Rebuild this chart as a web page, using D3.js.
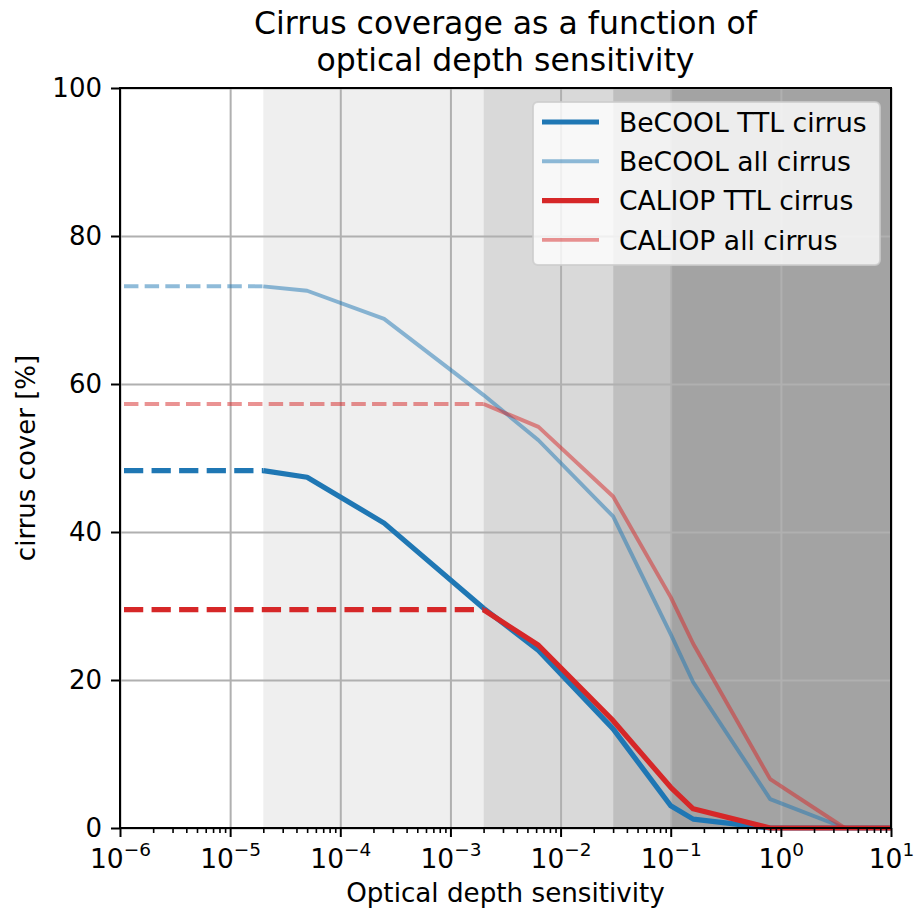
<!DOCTYPE html>
<html lang="en">
<head>
<meta charset="UTF-8">
<title>Cirrus coverage</title>
<style>
    body { margin: 0; background: #fff; }
    svg text { font-family: "DejaVu Sans", sans-serif; fill: #000; }
</style>
</head>
<body>
<svg id="chart" width="917" height="908"></svg>
<script src="https://cdn.jsdelivr.net/npm/d3@7"></script>
<script>
    // values
    const becoolTau = [2e-5, 5e-5, 2.5e-4, 2e-3, 6.3e-3, 3e-2, 0.1, 0.16, 0.8, 3.8, 10];
    const becoolTTL = [48.3, 47.4, 41.2, 29.7, 24.0, 13.4, 3.0, 1.2, 0, 0, 0];
    const becoolAll = [73.2, 72.6, 68.8, 58.5, 52.4, 42.1, 26.2, 19.7, 3.9, 0, 0];

    const caliopTau = [2e-3, 6.3e-3, 3e-2, 0.1, 0.16, 0.8, 3.8, 10];
    const caliopTTL = [29.5, 24.7, 14.5, 5.5, 2.6, 0, 0, 0];
    const caliopAll = [57.3, 54.2, 44.8, 31.2, 24.9, 6.6, 0, 0];

    // sensitivity bands (shaded backgrounds)
    const bandEdges = [2e-5, 2e-3, 3e-2, 0.1, 10];
    const bandColors = ["#efefef", "#d9d9d9", "#bfbfbf", "#a3a3a3"];

    const xDecades = [-6, -5, -4, -3, -2, -1, 0, 1];
    const yTicks = [0, 20, 40, 60, 80, 100];
    const titleLines = ["Cirrus coverage as a function of", "optical depth sensitivity"];

    const series = [
        {name: "BeCOOL TTL cirrus", tau: becoolTau, val: becoolTTL, color: "#1f77b4", opacity: 1, width: 5.2},
        {name: "BeCOOL all cirrus", tau: becoolTau, val: becoolAll, color: "#1f77b4", opacity: 0.5, width: 3.9},
        {name: "CALIOP TTL cirrus", tau: caliopTau, val: caliopTTL, color: "#d62728", opacity: 1, width: 5.2},
        {name: "CALIOP all cirrus", tau: caliopTau, val: caliopAll, color: "#d62728", opacity: 0.5, width: 3.9}
    ];

    const svg = d3.select("#chart");
    const margin = {left: 120, right: 26, top: 88, bottom: 80};
    const W = 917, H = 908;
    const pw = W - margin.left - margin.right;
    const ph = H - margin.top - margin.bottom;

    const x = d3.scaleLog().domain([1e-6, 10]).range([0, pw]);
    const y = d3.scaleLinear().domain([0, 100]).range([ph, 0]);

    const g = svg.append("g").attr("transform", `translate(${margin.left},${margin.top})`);

    // shaded bands
    g.selectAll("rect.band")
        .data(bandColors)
        .enter().append("rect")
        .attr("class", "band")
        .attr("x", (d, i) => x(bandEdges[i]))
        .attr("width", (d, i) => x(bandEdges[i + 1]) - x(bandEdges[i]))
        .attr("y", 0)
        .attr("height", ph)
        .attr("fill", d => d);

    // grid
    const decadeVals = xDecades.map(k => Math.pow(10, k));
    g.append("g")
        .attr("class", "grid")
        .attr("transform", `translate(0,${ph})`)
        .call(d3.axisBottom(x).tickValues(decadeVals).tickSize(-ph).tickFormat(""))
        .call(a => a.select(".domain").remove());
    g.append("g")
        .attr("class", "grid")
        .call(d3.axisLeft(y).tickValues(yTicks).tickSize(-pw).tickFormat(""))
        .call(a => a.select(".domain").remove());
    g.selectAll(".grid line").attr("stroke", "#b0b0b0").attr("stroke-width", 2);

    // lines
    const line = d3.line().x(d => x(d[0])).y(d => y(d[1]));
    series.forEach(s => {
        const pts = s.tau.map((t, i) => [t, s.val[i]]);
        const lg = g.append("g").attr("opacity", s.opacity);
        lg.append("path")
            .attr("d", line([[1e-6, s.val[0]], [s.tau[0], s.val[0]]]))
            .attr("fill", "none")
            .attr("stroke", s.color)
            .attr("stroke-width", s.width)
            .attr("stroke-dasharray", `${3.7 * s.width} ${1.6 * s.width}`)
            .attr("stroke-dashoffset", -4);
        lg.append("path")
            .attr("d", line(pts))
            .attr("fill", "none")
            .attr("stroke", s.color)
            .attr("stroke-width", s.width)
            .attr("stroke-linejoin", "round");
    });

    // axes
    const minorVals = [];
    xDecades.slice(0, -1).forEach(k => {
        for (let m = 2; m <= 9; m++) minorVals.push(m * Math.pow(10, k));
    });
    g.append("g")
        .attr("transform", `translate(0,${ph})`)
        .call(d3.axisBottom(x).tickValues(minorVals).tickSize(5).tickSizeOuter(0).tickFormat(""))
        .call(a => a.select(".domain").remove())
        .selectAll("line").attr("stroke", "#000").attr("stroke-width", 1.6);

    const xAxis = g.append("g")
        .attr("transform", `translate(0,${ph})`)
        .call(d3.axisBottom(x).tickValues(decadeVals).tickSize(9).tickSizeOuter(0).tickFormat(""));
    xAxis.selectAll("line").attr("stroke", "#000").attr("stroke-width", 2);
    xAxis.select(".domain").remove();
    xAxis.selectAll(".tick").each(function(d) {
        const t = d3.select(this).append("text")
            .attr("y", 39.5)
            .attr("text-anchor", "middle")
            .style("font-size", "26.5px");
        t.append("tspan").text("10");
        t.append("tspan")
            .attr("dy", -11.5)
            .style("font-size", "18.5px")
            .text(String(Math.round(Math.log10(d))).replace("-", "\u2212"));
    });

    const yAxis = g.append("g")
        .call(d3.axisLeft(y).tickValues(yTicks).tickSize(9).tickSizeOuter(0).tickPadding(9));
    yAxis.selectAll("line").attr("stroke", "#000").attr("stroke-width", 2);
    yAxis.select(".domain").remove();
    yAxis.selectAll("text")
        .attr("fill", "#000")
        .style("font-family", "DejaVu Sans")
        .style("font-size", "26px");

    // frame
    g.append("rect")
        .attr("width", pw).attr("height", ph)
        .attr("fill", "none")
        .attr("stroke", "#000")
        .attr("stroke-width", 2);

    // legend
    const leg = g.append("g").attr("transform", `translate(${533 - margin.left},${102 - margin.top})`);
    leg.append("rect")
        .attr("width", 347).attr("height", 163)
        .attr("rx", 5)
        .attr("fill", "#fff").attr("fill-opacity", 0.8)
        .attr("stroke", "#ccc").attr("stroke-opacity", 0.8).attr("stroke-width", 2);
    series.forEach((s, i) => {
        const row = leg.append("g").attr("transform", `translate(0,${20 + i * 39.3})`);
        row.append("line")
            .attr("x1", 9).attr("x2", 66)
            .attr("stroke", s.color)
            .attr("stroke-opacity", s.opacity)
            .attr("stroke-width", s.width);
        row.append("text")
            .attr("x", 86).attr("y", 9.8)
            .style("font-size", "26.6px")
            .text(s.name);
    });

    // title, two lines
    const cx = margin.left + pw / 2;
    titleLines.forEach((s, i) => {
        svg.append("text")
            .attr("x", cx)
            .attr("y", 34 + i * 37)
            .attr("text-anchor", "middle")
            .style("font-size", "31.5px")
            .text(s);
    });

    svg.append("text")
        .attr("x", cx).attr("y", 902)
        .attr("text-anchor", "middle")
        .style("font-size", "26.2px")
        .text("Optical depth sensitivity");

    svg.append("text")
        .attr("transform", `translate(35,${margin.top + ph / 2}) rotate(-90)`)
        .attr("text-anchor", "middle")
        .style("font-size", "26px")
        .text("cirrus cover [%]");
</script>
</body>
</html>
